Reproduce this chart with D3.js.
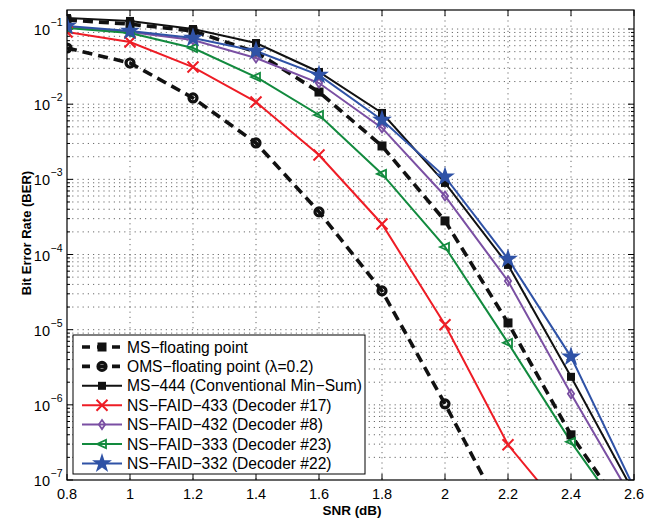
<!DOCTYPE html>
<html><head><meta charset="utf-8">
<script src="https://cdn.jsdelivr.net/npm/d3@7"></script>
<style>body{margin:0;background:#fff}svg{display:block}text{font-family:"Liberation Sans",Arial,sans-serif}</style>
</head><body>
<svg id="c" width="657" height="521"></svg>
<script>
const snr = [0.8, 1.0, 1.2, 1.4, 1.6, 1.8, 2.0, 2.2, 2.4, 2.6];
const msFloat = [0.132, 0.116, 0.094, 0.0494, 0.0145, 0.00278, 0.00028, 1.23e-5, 3.99e-7, 2.46e-8];
const omsFloat = [0.0559, 0.0353, 0.0121, 0.00305, 0.000369, 3.28e-5, 1.03e-6, 2.62e-8];
const ms444 = [0.140, 0.128, 0.100, 0.0651, 0.0268, 0.00764, 0.000896, 7.27e-5, 2.36e-6, 6.76e-8];
const faid433 = [0.0912, 0.0672, 0.0312, 0.0107, 0.00211, 0.000255, 1.16e-5, 2.94e-7, 2.87e-8];
const faid432 = [0.106, 0.0912, 0.0714, 0.0412, 0.0191, 0.00483, 0.000601, 4.45e-5, 1.40e-6, 5.13e-8];
const faid333 = [0.103, 0.0885, 0.0559, 0.0230, 0.00719, 0.00118, 0.000126, 6.68e-6, 3.22e-7, 2.11e-8];
const faid332 = [0.110, 0.094, 0.0759, 0.051, 0.0244, 0.00617, 0.00108, 8.74e-5, 4.35e-6, 7.87e-8];
const seriesNames = ["MS\u2212floating point", "OMS\u2212floating point (\u03bb=0.2)", "MS\u2212444 (Conventional Min\u2212Sum)",
  "NS\u2212FAID\u2212433 (Decoder #17)", "NS\u2212FAID\u2212432 (Decoder #8)", "NS\u2212FAID\u2212333 (Decoder #23)", "NS\u2212FAID\u2212332 (Decoder #22)"];
const xTicks = [0.8, 1, 1.2, 1.4, 1.6, 1.8, 2, 2.2, 2.4, 2.6];
const xTickLabels = ["0.8", "1", "1.2", "1.4", "1.6", "1.8", "2", "2.2", "2.4", "2.6"];
const yExponents = [-7, -6, -5, -4, -3, -2, -1];

const series = [
  {name: seriesNames[0], values: msFloat, color: "#111", dash: "10,6", width: 3.6, marker: "sqfill", msize: 9},
  {name: seriesNames[1], values: omsFloat, color: "#111", dash: "10,6", width: 3.6, marker: "circle", msize: 11},
  {name: seriesNames[2], values: ms444, color: "#111", dash: null, width: 2, marker: "sqfill", msize: 8},
  {name: seriesNames[3], values: faid433, color: "#ee1c25", dash: null, width: 2, marker: "x", msize: 11},
  {name: seriesNames[4], values: faid432, color: "#7a4fa3", dash: null, width: 2, marker: "diamond", msize: 9},
  {name: seriesNames[5], values: faid333, color: "#128a3e", dash: null, width: 2, marker: "tri", msize: 10},
  {name: seriesNames[6], values: faid332, color: "#2f52a6", dash: null, width: 2, marker: "star", msize: 15}
];

const L = 67, R = 634, T = 10, B = 480;
const x = d3.scaleLinear().domain([0.8, 2.6]).range([L, R]);
const y = d3.scaleLog().domain([1e-7, Math.pow(10, -0.747)]).range([B, T]);
const svg = d3.select("#c");

svg.append("defs").append("clipPath").attr("id", "clip")
  .append("rect").attr("x", L).attr("y", T).attr("width", R - L).attr("height", B - T);

// grid
const grid = svg.append("g").attr("stroke", "#5a5a5a").attr("stroke-width", 0.9).attr("stroke-dasharray", "1.2,4");
xTicks.slice(1, -1).forEach(v => grid.append("line").attr("x1", x(v)).attr("x2", x(v)).attr("y1", T).attr("y2", B));
const minorY = [];
yExponents.forEach(e => { for (let m = 1; m <= 9; m++) { const v = m * Math.pow(10, e); if (v <= y.domain()[1] && v > 1e-7) minorY.push({v, major: m === 1}); } });
minorY.forEach(d => grid.append("line").attr("x1", L).attr("x2", R).attr("y1", y(d.v)).attr("y2", y(d.v)));

// ticks
const tk = svg.append("g").attr("stroke", "#000").attr("stroke-width", 1);
xTicks.forEach(v => {
  tk.append("line").attr("x1", x(v)).attr("x2", x(v)).attr("y1", B).attr("y2", B - 6);
  tk.append("line").attr("x1", x(v)).attr("x2", x(v)).attr("y1", T).attr("y2", T + 6);
});
minorY.concat([{v: 1e-7, major: true}]).forEach(d => {
  const len = d.major ? 6 : 3;
  tk.append("line").attr("x1", L).attr("x2", L + len).attr("y1", y(d.v)).attr("y2", y(d.v));
  tk.append("line").attr("x1", R).attr("x2", R - len).attr("y1", y(d.v)).attr("y2", y(d.v));
});

// data
const plot = svg.append("g").attr("clip-path", "url(#clip)");
const line = d3.line().x((d, i) => x(snr[i])).y(d => y(d));

function drawMarker(g, type, cx, cy, s, color) {
  const h = s / 2;
  if (type === "sqfill") g.append("rect").attr("x", cx - h).attr("y", cy - h).attr("width", s).attr("height", s).attr("fill", color);
  else if (type === "circle") g.append("circle").attr("cx", cx).attr("cy", cy).attr("r", h - 1.5).attr("fill", "none").attr("stroke", color).attr("stroke-width", 3.2);
  else if (type === "x") g.append("path").attr("d", `M${cx-h},${cy-h}L${cx+h},${cy+h}M${cx-h},${cy+h}L${cx+h},${cy-h}`).attr("stroke", color).attr("stroke-width", 2).attr("fill", "none");
  else if (type === "diamond") g.append("path").attr("d", `M${cx},${cy-h}L${cx+h*0.7},${cy}L${cx},${cy+h}L${cx-h*0.7},${cy}Z`).attr("stroke", color).attr("stroke-width", 1.8).attr("fill", "none");
  else if (type === "tri") g.append("path").attr("d", `M${cx-h},${cy}L${cx+h*0.8},${cy-h*0.8}L${cx+h*0.8},${cy+h*0.8}Z`).attr("stroke", color).attr("stroke-width", 1.8).attr("fill", "none");
  else if (type === "star") g.append("path").attr("d", d3.symbol().type(d3.symbolStar).size(s * s * 0.55)()).attr("transform", `translate(${cx},${cy})`).attr("fill", color);
}

series.forEach(s => {
  plot.append("path").datum(s.values).attr("d", line).attr("fill", "none")
    .attr("stroke", s.color).attr("stroke-width", s.width).attr("stroke-dasharray", s.dash);
});
series.forEach(s => {
  const g = plot.append("g");
  s.values.forEach((v, i) => { if (v >= 1e-7) drawMarker(g, s.marker, x(snr[i]), y(v), s.msize, s.color); });
});

// frame
svg.append("rect").attr("x", L).attr("y", T).attr("width", R - L).attr("height", B - T).attr("fill", "none").attr("stroke", "#000").attr("stroke-width", 1.2);

// tick labels
xTicks.forEach((v, i) => svg.append("text").attr("x", x(v)).attr("y", 499).attr("text-anchor", "middle").attr("font-size", 14.5).text(xTickLabels[i]));
yExponents.forEach(e => {
  svg.append("text").attr("x", 50).attr("y", y(Math.pow(10, e)) + 6).attr("text-anchor", "end").attr("font-size", 14.5).text("10");
  svg.append("text").attr("x", 50.5).attr("y", y(Math.pow(10, e)) - 3).attr("font-size", 10.5).text("\u2212" + (-e));
});

// axis labels
svg.append("text").attr("x", 352).attr("y", 515).attr("text-anchor", "middle").attr("font-size", 13.5).attr("font-weight", "bold").text("SNR (dB)");
svg.append("text").attr("transform", "translate(31,233) rotate(-90)").attr("text-anchor", "middle").attr("font-size", 13).attr("font-weight", "bold").text("Bit Error Rate (BER)");

// legend
const lg = svg.append("g");
lg.append("rect").attr("x", 73).attr("y", 335).attr("width", 292).attr("height", 139).attr("fill", "#fff").attr("stroke", "#000").attr("stroke-width", 1);
series.forEach((s, i) => {
  const cy = 347 + i * 19.4;
  lg.append("line").attr("x1", 82).attr("x2", 122).attr("y1", cy).attr("y2", cy).attr("stroke", s.color).attr("stroke-width", s.width).attr("stroke-dasharray", s.dash ? "8,7" : null);
  drawMarker(lg, s.marker, 102, cy, s.msize, s.color);
  lg.append("text").attr("x", 127).attr("y", cy + 5.5).attr("font-size", 15.6).text(s.name);
});
</script>
</body></html>
